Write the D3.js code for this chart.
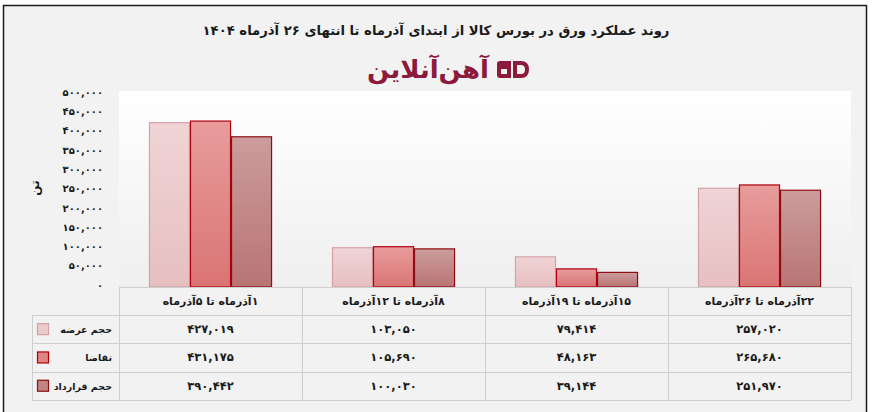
<!DOCTYPE html>
<html><head><meta charset="utf-8">
<script src="https://cdnjs.cloudflare.com/ajax/libs/d3/7.8.5/d3.min.js"></script>
<style>
html,body{margin:0;padding:0;background:#fff;}
svg{display:block;font-family:"DejaVu Sans",sans-serif;}
</style></head>
<body><svg id="c" width="873" height="412"></svg>
<script>
const categories = ["۱آذرماه تا ۵آذرماه","۸آذرماه تا ۱۲آذرماه","۱۵آذرماه تا ۱۹آذرماه","۲۲آذرماه تا ۲۶آذرماه"];
const seriesNames = ["حجم عرضه","تقاضا","حجم قرارداد"];
const offer    = [427019, 103050, 79414, 257020];
const demand   = [431175, 105690, 48163, 265680];
const contract = [390442, 100030, 39144, 251970];
const yTicks = [0,50000,100000,150000,200000,250000,300000,350000,400000,450000,500000];
const title = "روند عملکرد ورق در بورس کالا از ابتدای آذرماه تا انتهای ۲۶ آذرماه ۱۴۰۴";
const yTitle = "تن";
const logoText = "آهن‌آنلاین";

const seriesValues = [offer, demand, contract];
const fa = s => String(s).replace(/[0-9]/g, d => "۰۱۲۳۴۵۶۷۸۹"[+d]);
const fmt = v => fa(d3.format(",")(v));

const svg = d3.select("#c");
const W = 873, H = 412;
const L = 119, R = 851, T = 94, B = 287, plotTop = 91;

const defs = svg.append("defs");
function grad(id, c1, c2){
  const g = defs.append("linearGradient").attr("id", id).attr("x1",0).attr("y1",0).attr("x2",0).attr("y2",1);
  g.append("stop").attr("offset","0%").attr("stop-color",c1);
  g.append("stop").attr("offset","100%").attr("stop-color",c2);
}
grad("gPlot","#ffffff","#efefef");
grad("g0","#f0d4d6","#e6bfc1");
grad("g1","#e89c9c","#da7474");
grad("g2","#cc9c9c","#b97474");
const strokes = ["#d4a2a6","#b0000e","#8e0d14"];
const swFill = ["#eccacc","#e08484","#c28484"];
const swStroke = ["#d0a0a4","#b00000","#8b1010"];

// background & frame
svg.append("rect").attr("x",0).attr("y",0).attr("width",W).attr("height",H).attr("fill","#ffffff");
svg.append("rect").attr("x",3.5).attr("y",5.5).attr("width",863).attr("height",412).attr("fill","#f2f2f2").attr("stroke","#1a1a1a").attr("stroke-width",1.5);

// title
svg.append("text").attr("x",436).attr("y",35).attr("text-anchor","middle").attr("direction","rtl")
  .attr("font-size",13.2).attr("font-weight","bold").attr("fill","#1a1a1a").text(title);

// logo
svg.append("text").attr("x",428).attr("y",78).attr("text-anchor","middle").attr("direction","rtl")
  .attr("font-size",25).attr("font-weight","bold").attr("fill","#8c1a3c")
  .attr("textLength",122).attr("lengthAdjust","spacingAndGlyphs").text(logoText);
const lg = svg.append("g").attr("fill","#8c1a3c");
lg.append("path").attr("fill-rule","evenodd")
  .attr("d","M497,64 Q497,61 500,61 L511,61 L511,78 L500,78 Q497,78 497,75 Z M501,69 L507,69 L507,74 L501,74 Z");
lg.append("path").attr("fill-rule","evenodd")
  .attr("d","M513,61 L521,61 Q529,61 529,69.5 Q529,78 521,78 L513,78 Z M517,65 L521,65 Q525,65 525,69.5 Q525,74 521,74 L517,74 Z");

// plot area
svg.append("rect").attr("x",L).attr("y",plotTop).attr("width",R-L).attr("height",B-plotTop).attr("fill","url(#gPlot)");

const x = d3.scaleBand().domain(categories).range([L,R]).padding(0);
const xs = d3.scaleBand().domain(seriesNames).range([0,x.bandwidth()]).paddingInner(0).paddingOuter(0.73);
const y = d3.scaleLinear().domain([0,500000]).range([B,T]);

// bars
seriesNames.forEach((s,si)=>{
  svg.append("g").selectAll("rect").data(categories).join("rect")
    .attr("x",(c)=>x(c)+xs(s)+0.5)
    .attr("y",(c,i)=>y(seriesValues[si][i])+0.5)
    .attr("width",xs.bandwidth()-1)
    .attr("height",(c,i)=>B-y(seriesValues[si][i])-0.5)
    .attr("fill",`url(#g${si})`)
    .attr("stroke",strokes[si]).attr("stroke-width",1.2);
});

// y axis labels
const yAxis = d3.axisLeft(y).tickValues(yTicks).tickSize(0).tickPadding(0).tickFormat(fmt);
const ya = svg.append("g").attr("transform","translate(103,-2)").call(yAxis);
ya.select(".domain").remove();
ya.selectAll("text").attr("font-size",10).attr("font-weight","bold").attr("fill","#1a1a1a").attr("font-family","DejaVu Sans");

svg.append("text").attr("transform","translate(39,188) rotate(-90)").attr("text-anchor","middle")
  .attr("font-size",12).attr("font-weight","bold").attr("fill","#1a1a1a").text(yTitle);

// table
const rowH = 28.3;
const tl = "#cfcfcf";
const tg = svg.append("g").attr("stroke",tl).attr("stroke-width",1).attr("fill","none");
const bodyTop = 315, bodyBot = bodyTop + rowH*3;
tg.append("line").attr("x1",L).attr("x2",R).attr("y1",B+0.5).attr("y2",B+0.5);
for(let r=0;r<=3;r++){
  const yy = Math.round(bodyTop + r*rowH)+0.5;
  tg.append("line").attr("x1",32).attr("x2",R).attr("y1",yy).attr("y2",yy);
}
const vx = [L].concat(categories.map(c=>x(c)+x.bandwidth()));
vx.forEach(v=>tg.append("line").attr("x1",Math.round(v)+0.5).attr("x2",Math.round(v)+0.5).attr("y1",B).attr("y2",bodyBot));
tg.append("line").attr("x1",32.5).attr("x2",32.5).attr("y1",bodyTop).attr("y2",bodyBot);

// header labels
svg.append("g").selectAll("text").data(categories).join("text")
  .attr("x",c=>x(c)+x.bandwidth()/2).attr("y",B+18).attr("text-anchor","middle").attr("direction","rtl")
  .attr("font-size",11).attr("font-weight","bold").attr("fill","#1a1a1a").text(c=>c);

// body
seriesNames.forEach((s,si)=>{
  const cy = bodyTop + si*rowH + rowH/2;
  svg.append("rect").attr("x",37.5).attr("y",cy-5.5).attr("width",11).attr("height",11)
    .attr("fill",swFill[si]).attr("stroke",swStroke[si]).attr("stroke-width",1.2);
  svg.append("text").attr("x",112).attr("y",cy+4).attr("text-anchor","end")
    .attr("font-size",9.5).attr("font-weight","bold").attr("fill","#1a1a1a").text(s);
  svg.append("g").selectAll("text").data(categories).join("text")
    .attr("x",c=>x(c)+x.bandwidth()/2).attr("y",cy+4).attr("text-anchor","middle")
    .attr("font-size",11.5).attr("font-weight","bold").attr("fill","#1a1a1a")
    .text((c,i)=>fmt(seriesValues[si][i]));
});
</script></body></html>
